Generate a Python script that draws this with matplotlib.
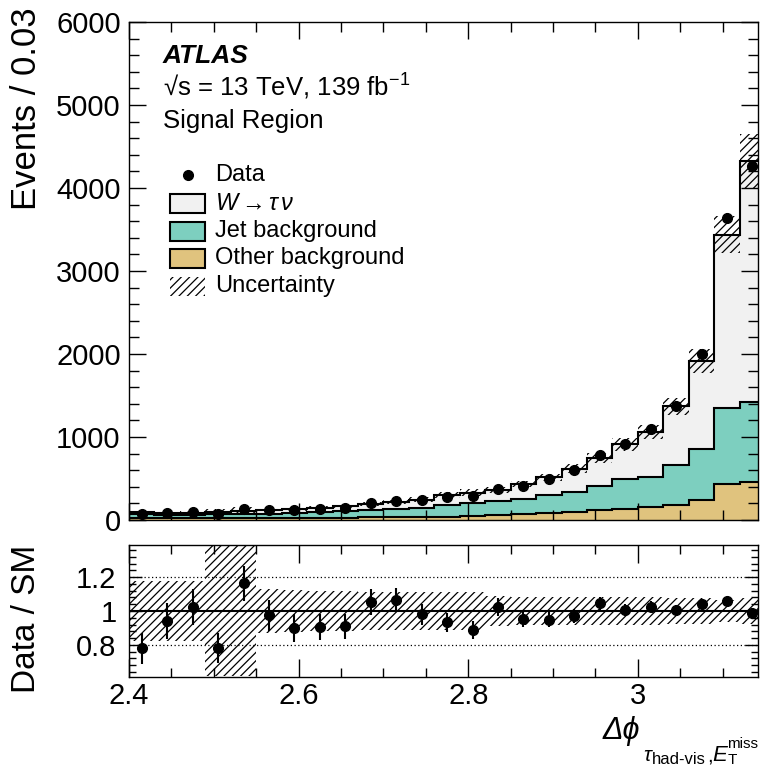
import numpy as np
import matplotlib
matplotlib.use("Agg")
import matplotlib.pyplot as plt
from matplotlib.patches import Rectangle
from matplotlib.lines import Line2D
from matplotlib.ticker import MultipleLocator, FuncFormatter

plt.rcParams['font.family'] = ['Liberation Sans', 'DejaVu Sans']
plt.rcParams['mathtext.fontset'] = 'custom'
plt.rcParams['mathtext.rm'] = 'Liberation Sans'
plt.rcParams['mathtext.it'] = 'Liberation Sans:italic'
plt.rcParams['mathtext.bf'] = 'Liberation Sans:bold'
plt.rcParams['hatch.linewidth'] = 0.9

# Delta-phi binning (bin width 0.03, last bin truncated at pi)
bin_edges = [2.40, 2.43, 2.46, 2.49, 2.52, 2.55, 2.58, 2.61, 2.64, 2.67, 2.70,
             2.73, 2.76, 2.79, 2.82, 2.85, 2.88, 2.91, 2.94, 2.97, 3.00, 3.03,
             3.06, 3.09, 3.12, 3.15]

data_events = [74, 80, 92, 78, 128, 115, 117, 134, 150, 200, 226, 240, 280,
               293, 369, 409, 489, 601, 784, 916, 1093, 1378, 2000, 3638, 4270]

other_bkg = [20, 20, 22, 22, 24, 25, 26, 28, 30, 32, 35, 38, 40, 50, 60, 70,
             80, 96, 120, 129, 161, 181, 241, 430, 455]
jet_bkg = [50, 40, 40, 46, 48, 53, 59, 67, 75, 86, 93, 107, 135, 150, 165,
           185, 225, 245, 290, 359, 361, 479, 614, 920, 970]
w_taunu = [25, 25, 28, 32, 38, 40, 45, 53, 60, 72, 84, 100, 125, 130, 136,
           175, 210, 279, 340, 422, 543, 710, 1065, 2085, 2905]

# relative total uncertainty on the SM prediction
unc_rel = [0.18, 0.18, 0.18, 0.385, 0.385, 0.13, 0.125, 0.12, 0.12, 0.11,
           0.11, 0.11, 0.115, 0.115, 0.09, 0.085, 0.085, 0.08, 0.08, 0.08,
           0.08, 0.075, 0.075, 0.065, 0.075]

edges = np.array(bin_edges)
centers = 0.5 * (edges[:-1] + edges[1:])
data = np.array(data_events, dtype=float)
other = np.array(other_bkg, dtype=float)
jet = np.array(jet_bkg, dtype=float)
wtn = np.array(w_taunu, dtype=float)
unc = np.array(unc_rel)

lvl1 = other
lvl2 = other + jet
total = other + jet + wtn
data_err = np.sqrt(data)
ratio = data / total
ratio_err = data_err / total

C_W = '#f1f1f1'
C_JET = '#7dcfbf'
C_OTHER = '#e0c37e'

W, H = 761, 767
fig = plt.figure(figsize=(W / 100, H / 100), dpi=100)


def fx(px):
    return px / W


def fy(py):
    return 1 - py / H


ax = fig.add_axes([fx(129), fy(520), (758 - 129) / W, (520 - 22) / H])
rax = fig.add_axes([fx(129), fy(677), (758 - 129) / W, (677 - 545) / H])

XMAX = np.pi

# ---- main panel: stacked SM prediction
ax.stairs(lvl1, edges, baseline=0, fill=True, color=C_OTHER, lw=0)
ax.stairs(lvl2, edges, baseline=lvl1, fill=True, color=C_JET, lw=0)
ax.stairs(total, edges, baseline=lvl2, fill=True, color=C_W, lw=0)
for lv in (lvl1, lvl2, total):
    ax.stairs(lv, edges, baseline=None, color='black', lw=1.5)
ax.stairs(total * (1 + unc), edges, baseline=total * (1 - unc), fill=True,
          facecolor='none', edgecolor='black', hatch='////', lw=0)
ax.errorbar(centers, data, yerr=data_err, fmt='o', color='black', ms=7,
            elinewidth=1.5, capsize=0, zorder=3)

ax.set_xlim(2.4, XMAX)
ax.set_ylim(0, 6000)
ax.xaxis.set_major_locator(MultipleLocator(0.2))
ax.xaxis.set_minor_locator(MultipleLocator(0.05))
ax.yaxis.set_major_locator(MultipleLocator(1000))
ax.yaxis.set_minor_locator(MultipleLocator(200))
ax.tick_params(which='both', direction='in', top=True, right=True,
               labelbottom=False, labelsize=21, width=1.0)
ax.tick_params(which='major', length=12)
ax.tick_params(which='minor', length=7)
ax.tick_params(axis='y', pad=6)
for s in ax.spines.values():
    s.set_linewidth(1.0)

fig.text(fx(27), fy(7), 'Events / 0.03', rotation=90, ha='center', va='top',
         fontsize=25)

# ---- labels
tx = (163 - 129) / 629


def afy(py):
    return (520 - py) / 498


ax.text(tx, afy(63), 'ATLAS', transform=ax.transAxes, fontsize=19,
        fontweight='bold', fontstyle='italic', va='baseline')
ax.text(tx, afy(96), '√s = 13 TeV, 139 fb$^{\\mathrm{-1}}$',
        transform=ax.transAxes, fontsize=18.5, va='baseline')
ax.text(tx, afy(128), 'Signal Region', transform=ax.transAxes, fontsize=18.5,
        va='baseline')

# ---- legend
bx0 = (170 - 129) / 629
bw = 35 / 629
bh = 19 / 498
lx = (215 - 129) / 629
rows = [('Data', 175), (r'$W\rightarrow\tau\,\nu$', 204),
        ('Jet background', 231.5), ('Other background', 258.5),
        ('Uncertainty', 286.5)]
for i, (lab, py) in enumerate(rows):
    yc = afy(py)
    if i == 0:
        ax.add_line(Line2D([bx0 + bw / 2], [yc], marker='o', ms=7,
                           color='black', transform=ax.transAxes))
    elif i < 4:
        col = [C_W, C_JET, C_OTHER][i - 1]
        ax.add_patch(Rectangle((bx0, yc - bh / 2), bw, bh, facecolor=col,
                               edgecolor='black', lw=1.5,
                               transform=ax.transAxes))
    else:
        ax.add_patch(Rectangle((bx0, yc - bh / 2), bw, bh, facecolor='none',
                               edgecolor='black', hatch='////', lw=0,
                               transform=ax.transAxes))
    ax.text(lx, yc, lab, transform=ax.transAxes, fontsize=17, va='center')

# ---- ratio panel
rax.stairs(1 + unc, edges, baseline=1 - unc, fill=True, facecolor='none',
           edgecolor='black', hatch='////', lw=0)
rax.axhline(1.0, color='black', lw=1.5)
for yv in (0.8, 1.2):
    rax.axhline(yv, color='black', lw=0.9, ls=(0, (1, 2)))
rax.errorbar(centers, ratio, yerr=ratio_err, fmt='o', color='black', ms=7,
             elinewidth=1.5, capsize=0, zorder=3)
rax.set_xlim(2.4, XMAX)
rax.set_ylim(0.61, 1.39)
rax.xaxis.set_major_locator(MultipleLocator(0.2))
rax.xaxis.set_minor_locator(MultipleLocator(0.05))
rax.yaxis.set_major_locator(MultipleLocator(0.2))
rax.yaxis.set_minor_locator(MultipleLocator(0.04))
fmt = FuncFormatter(lambda v, p: '%g' % round(v, 3))
rax.xaxis.set_major_formatter(fmt)
rax.yaxis.set_major_formatter(fmt)
rax.tick_params(which='both', direction='in', top=True, right=True,
                labelsize=21, width=1.0)
rax.tick_params(axis='x', which='major', length=13, pad=3.5)
rax.tick_params(axis='x', which='minor', length=6.5)
rax.tick_params(axis='y', which='major', length=9.5, pad=9)
rax.tick_params(axis='y', which='minor', length=5)
for s in rax.spines.values():
    s.set_linewidth(1.0)

fig.text(fx(27), fy(545), 'Data / SM', rotation=90, ha='center', va='top',
         fontsize=24)

# ---- x-axis title
fig.text(fx(603), fy(739), 'Δϕ', fontsize=22, fontstyle='italic',
         va='baseline', ha='left')
fig.text(fx(643), fy(761), 'τ', fontsize=15, fontstyle='italic',
         va='baseline', ha='left')
fig.text(fx(652), fy(763.5), 'had-vis', fontsize=12, va='baseline', ha='left')
fig.text(fx(707), fy(761), ',', fontsize=15, va='baseline', ha='left')
fig.text(fx(712), fy(761), 'E', fontsize=16, fontstyle='italic',
         va='baseline', ha='left')
fig.text(fx(728), fy(763.5), 'T', fontsize=11, va='baseline', ha='left')
fig.text(fx(727), fy(748), 'miss', fontsize=11, va='baseline', ha='left')

fig.savefig('out.png', dpi=100)
